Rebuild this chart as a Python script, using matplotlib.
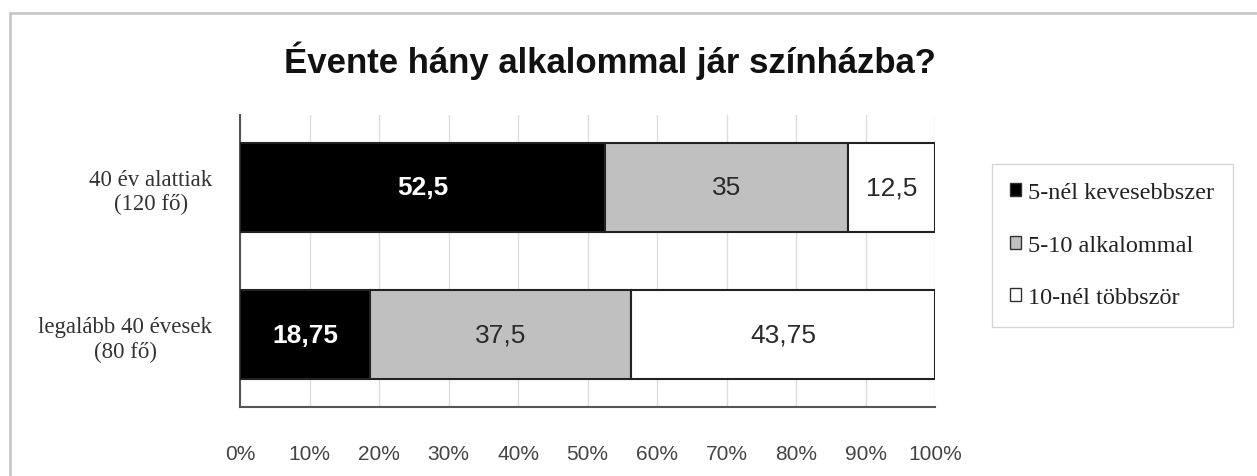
import numpy as np
import matplotlib.pyplot as plt
from matplotlib.patches import Rectangle, Patch

# adatok
groups = ['40 év alattiak\n(120 fő)', 'legalább 40 évesek\n(80 fő)']
series = ['5-nél kevesebbszer', '5-10 alkalommal', '10-nél többször']
values = [
    [52.5, 18.75],
    [35, 37.5],
    [12.5, 43.75],
]
labels = [['52,5', '18,75'], ['35', '37,5'], ['12,5', '43,75']]
colors = ['#000000', '#c0c0c0', '#ffffff']
text_colors = ['white', '#2a2a2a', '#2a2a2a']
ticks = np.arange(0, 101, 10)

fig = plt.figure(figsize=(12.57, 4.77), dpi=100)
W, H = 1257, 477

# keret a diagram körül
fig.patches.append(Rectangle((10 / W, -0.1), 1.2, 1 - 14 / H + 0.1,
                             transform=fig.transFigure, fill=False,
                             edgecolor='#c8c8c8', linewidth=2))

ax = fig.add_axes([240 / W, 1 - 408 / H, 695 / W, 292 / H])

y = np.arange(len(groups))
left = np.zeros(len(groups))
for i in range(len(series)):
    ax.barh(y, values[i], left=left, height=0.6, color=colors[i],
            edgecolor='#222222', linewidth=1.5, label=series[i], zorder=3)
    for j in range(len(groups)):
        ax.text(left[j] + values[i][j] / 2, y[j], labels[i][j],
                ha='center', va='center', fontsize=19,
                fontweight='bold' if i == 0 else 'normal',
                color=text_colors[i], family='Liberation Sans', zorder=4)
    left = left + np.array(values[i])

ax.set_xlim(0, 100)
ax.set_ylim(1.49, -0.49)
ax.set_xticks(ticks)
ax.set_xticklabels([f'{t}%' for t in ticks], family='Liberation Sans',
                   fontsize=15, color='#444444')
ax.set_yticks(y)
ax.set_yticklabels(groups, family='Liberation Serif', fontsize=16.5,
                   color='#333333', ha='right')
for lab in ax.get_yticklabels():
    lab.set_multialignment('center')
ax.tick_params(axis='y', length=0, pad=20)
ax.tick_params(axis='x', length=0, pad=27)
ax.xaxis.grid(True, color='#dddddd', linewidth=1, zorder=0)
for s in ['top', 'right']:
    ax.spines[s].set_visible(False)
ax.spines['left'].set_color('#555555')
ax.spines['bottom'].set_color('#555555')
ax.spines['left'].set_linewidth(1.5)
ax.spines['bottom'].set_linewidth(1.5)

fig.text(610 / W, 1 - 61 / H, 'Évente hány alkalommal jár színházba?',
         ha='center', va='center', fontsize=25, fontweight='bold',
         family='Liberation Sans', color='#111111')

handles = [Patch(facecolor=c, edgecolor='#333333', label=s)
           for c, s in zip(colors, series)]
leg = fig.legend(handles=handles, loc='upper left',
                 bbox_to_anchor=(992 / W, 1 - 165 / H), borderaxespad=0,
                 prop={'family': 'Liberation Serif', 'size': 17.5},
                 frameon=True, fancybox=False, edgecolor='#cccccc',
                 handlelength=0.45, handleheight=0.45, handletextpad=0.3,
                 labelspacing=1.3, borderpad=0.75, labelcolor='#222222')

fig.savefig('out.png', dpi=100)
